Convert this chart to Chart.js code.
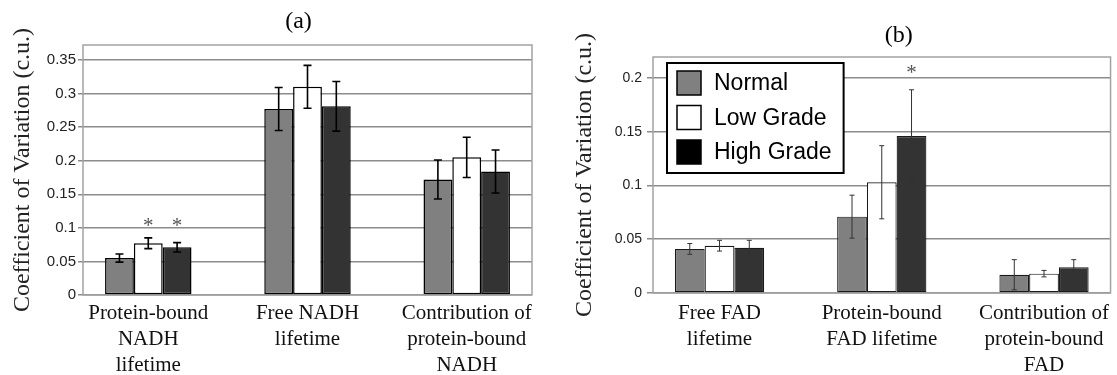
<!DOCTYPE html>
<html>
<head>
<meta charset="utf-8">
<title>Coefficient of Variation</title>
<script src="https://cdn.jsdelivr.net/npm/chart.js@4.4.1/dist/chart.umd.min.js"></script>
<style>
  html, body { margin: 0; padding: 0; background: #fff; }
  #wrap { position: relative; width: 1117px; height: 375px; overflow: hidden; }
  .panel { position: absolute; top: 0; height: 375px; }
  #panelA { left: 0; width: 550px; }
  #panelB { left: 550px; width: 567px; }
</style>
</head>
<body>
<div id="wrap">
  <div class="panel" id="panelA"><canvas id="chartA" width="550" height="375"></canvas></div>
  <div class="panel" id="panelB"><canvas id="chartB" width="567" height="375"></canvas></div>
</div>
<script>
/* global Chart */

const groups = ["Normal", "Low Grade", "High Grade"];

// (a) NADH
const nadhLabels = [["Protein-bound", "NADH", "lifetime"], ["Free NADH", "lifetime"], ["Contribution of", "protein-bound", "NADH"]];
const nadhNormal = [0.055, 0.277, 0.172];
const nadhLow = [0.077, 0.31, 0.205];
const nadhHigh = [0.071, 0.281, 0.184];
const nadhNormalErr = [0.006, 0.032, 0.029];
const nadhLowErr = [0.008, 0.032, 0.03];
const nadhHighErr = [0.007, 0.037, 0.032];
const nadhStars = [[0, 1], [0, 2]]; // [category, group]

// (b) FAD
const fadLabels = [["Free FAD", "lifetime"], ["Protein-bound", "FAD lifetime"], ["Contribution of", "protein-bound", "FAD"]];
const fadNormal = [0.041, 0.071, 0.017];
const fadLow = [0.044, 0.103, 0.018];
const fadHigh = [0.042, 0.146, 0.024];
const fadNormalErr = [0.005, 0.02, 0.014];
const fadLowErr = [0.005, 0.034, 0.003];
const fadHighErr = [0.007, 0.043, 0.007];
const fadStars = [[1, 2]];

const barFill = ["#808080", "#ffffff", "#333333"];
const keyFill = ["#808080", "#ffffff", "#000000"];
const SERIF = '"Liberation Serif", "Times New Roman", serif';
const SANS = '"Liberation Sans", Arial, sans-serif';

function points(values) {
  return values.map((v, i) => ({ x: i, y: v }));
}

function fmtTick(v) {
  return String(Math.round(v * 100) / 100);
}

// frame, error bars, significance marks and the boxed key
function extras(cfg) {
  return {
    id: "extras",
    afterLayout(chart) {
      const t = chart.titleBlock;
      if (t && cfg.titleShift) {
        t.left += cfg.titleShift;
        t.right += cfg.titleShift;
      }
    },
    beforeDatasetsDraw(chart) {
      const { ctx, chartArea: a } = chart;
      ctx.save();
      ctx.strokeStyle = "#a3a3a3";
      ctx.lineWidth = 1.5;
      ctx.strokeRect(a.left, a.top, a.right - a.left, a.bottom - a.top);
      ctx.restore();
    },
    afterDatasetsDraw(chart) {
      const { ctx } = chart;
      const ys = chart.scales.y;
      ctx.save();
      ctx.strokeStyle = cfg.errColor;
      ctx.lineWidth = cfg.errWidth;
      chart.data.datasets.forEach((ds, i) => {
        chart.getDatasetMeta(i).data.forEach((bar, j) => {
          const v = ds.data[j].y;
          const e = cfg.errors[i][j];
          const top = ys.getPixelForValue(v + e);
          const bot = ys.getPixelForValue(v - e);
          ctx.beginPath();
          ctx.moveTo(bar.x, top);
          ctx.lineTo(bar.x, bot);
          ctx.moveTo(bar.x - cfg.cap, top);
          ctx.lineTo(bar.x + cfg.cap, top);
          ctx.moveTo(bar.x - cfg.cap, bot);
          ctx.lineTo(bar.x + cfg.cap, bot);
          ctx.stroke();
        });
      });
      ctx.restore();
    },
    afterDraw(chart) {
      const { ctx, chartArea: a } = chart;
      const ys = chart.scales.y;
      const sets = chart.data.datasets;

      // asterisks over significant bars
      ctx.save();
      ctx.fillStyle = "#555";
      ctx.font = "21px " + SERIF;
      ctx.textAlign = "center";
      ctx.textBaseline = "alphabetic";
      for (const [c, g] of cfg.stars) {
        const bar = chart.getDatasetMeta(g).data[c];
        let top = Infinity;
        sets.forEach((ds, i) => {
          top = Math.min(top, ys.getPixelForValue(ds.data[c].y + cfg.errors[i][c]));
        });
        ctx.fillText("*", bar.x, top - cfg.starGap + 10);
      }
      ctx.restore();

      if (!cfg.key) return;
      ctx.save();
      ctx.font = "23px " + SANS;
      const tw = Math.max(...sets.map((ds) => ctx.measureText(ds.label).width));
      const x0 = a.left + 14;
      const y0 = a.top + 6;
      const pitch = 34.5;
      const w = 10 + 24 + 13 + tw + 12;
      const h = 8 + 24 + pitch * (sets.length - 1) + 9;
      ctx.fillStyle = "#fff";
      ctx.fillRect(x0, y0, w, h);
      ctx.strokeStyle = "#000";
      ctx.lineWidth = 2;
      ctx.strokeRect(x0, y0, w, h);
      ctx.lineWidth = 1.5;
      ctx.textBaseline = "middle";
      sets.forEach((ds, i) => {
        const sy = y0 + 8 + i * pitch;
        ctx.fillStyle = keyFill[i];
        ctx.fillRect(x0 + 10, sy, 24, 24);
        ctx.strokeRect(x0 + 10, sy, 24, 24);
        ctx.fillStyle = "#000";
        ctx.fillText(ds.label, x0 + 10 + 24 + 13, sy + 13);
      });
      ctx.restore();
    },
  };
}

function makeChart(id, p) {
  return new Chart(document.getElementById(id), {
    type: "bar",
    data: {
      datasets: p.series.map((vals, i) => ({
        label: groups[i],
        data: points(vals),
        backgroundColor: barFill[i],
        borderColor: p.barEdge,
        borderWidth: p.barEdgeWidth,
        borderSkipped: false,
        categoryPercentage: p.catPct,
        barPercentage: 1,
      })),
    },
    options: {
      responsive: false,
      devicePixelRatio: 1,
      animation: false,
      events: [],
      layout: { padding: { left: 0, right: p.padRight, top: 0, bottom: 0 } },
      plugins: {
        legend: { display: false },
        tooltip: { enabled: false },
        title: {
          display: true,
          text: p.title,
          fullSize: false,
          color: "#000",
          font: { family: SERIF, size: 24, weight: "normal", lineHeight: 1.2 },
          padding: p.titlePad,
        },
      },
      scales: {
        x: {
          type: "linear",
          offset: false,
          min: -0.41,
          max: 2.41,
          grid: { display: false, drawTicks: false },
          border: { display: false },
          afterBuildTicks: (s) => {
            s.ticks = p.labels.map((_, i) => ({ value: i }));
          },
          afterFit: (s) => {
            s.height = p.xHeight;
          },
          ticks: {
            autoSkip: false,
            maxRotation: 0,
            padding: p.xPad,
            color: "#111",
            font: { family: SERIF, size: 21, lineHeight: 1.25 },
            callback: (v) => p.labels[v],
          },
        },
        y: {
          min: 0,
          max: p.yMax,
          border: { display: false },
          grid: { color: "#8c8c8c", lineWidth: 1.5, tickLength: p.tickLen },
          ticks: {
            stepSize: 0.05,
            includeBounds: false,
            padding: p.tickPad,
            color: "#222",
            font: { family: SANS, size: p.tickSize },
            callback: fmtTick,
          },
          title: {
            display: true,
            text: "Coefficient of Variation (c.u.)",
            color: "#222",
            font: { family: SERIF, size: 24, lineHeight: 1.2 },
            padding: { top: p.yTitlePad, bottom: 0 },
          },
          afterFit: (s) => {
            s.width = p.yWidth;
          },
        },
      },
    },
    plugins: [extras(p.extras)],
  });
}

makeChart("chartA", {
  title: "(a)",
  labels: nadhLabels,
  series: [nadhNormal, nadhLow, nadhHigh],
  barEdge: "#000",
  barEdgeWidth: 1.5,
  catPct: 0.543,
  padRight: 18,
  titlePad: { top: 7.6, bottom: 8.6 },
  xHeight: 80,
  xPad: 5,
  yMax: 0.3723,
  tickLen: 5,
  tickPad: 2,
  tickSize: 15,
  yTitlePad: 8,
  yWidth: 83,
  extras: {
    titleShift: -9,
    errors: [nadhNormalErr, nadhLowErr, nadhHighErr],
    errColor: "#000",
    errWidth: 1.6,
    cap: 4,
    stars: nadhStars,
    starGap: 16,
    key: false,
  },
});

makeChart("chartB", {
  title: "(b)",
  labels: fadLabels,
  series: [fadNormal, fadLow, fadHigh],
  barEdge: "#1a1a1a",
  barEdgeWidth: 1.2,
  catPct: 0.55,
  padRight: 5,
  titlePad: { top: 21.6, bottom: 6.6 },
  xHeight: 82,
  xPad: 7,
  yMax: 0.2195,
  tickLen: 6,
  tickPad: 5,
  tickSize: 14,
  yTitlePad: 20,
  yWidth: 103,
  extras: {
    titleShift: 17,
    errors: [fadNormalErr, fadLowErr, fadHighErr],
    errColor: "#333",
    errWidth: 1,
    cap: 2.5,
    stars: fadStars,
    starGap: 21,
    key: true,
  },
});
</script>
</body>
</html>
